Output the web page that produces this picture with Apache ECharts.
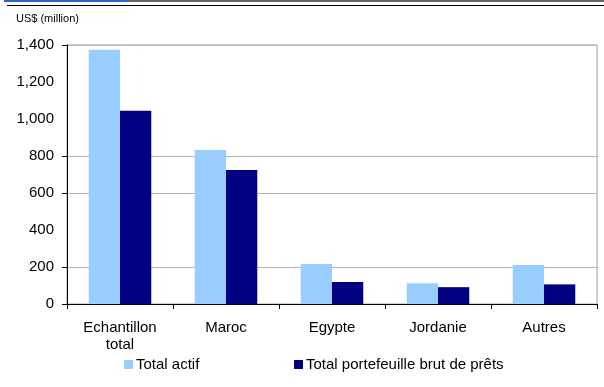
<!DOCTYPE html>
<html>
<head>
<meta charset="utf-8">
<script src="https://cdn.jsdelivr.net/npm/echarts@6/dist/echarts.min.js"></script>
<style>
  html, body { margin: 0; padding: 0; background: #fff; }
  #chart { width: 604px; height: 387px; }
</style>
</head>
<body>
<div id="chart"></div>
<script>
// Regions compared in the chart
const categories = ['Echantillon\ntotal', 'Maroc', 'Egypte', 'Jordanie', 'Autres'];
// Values in US$ million
const totalActif = [1375, 832, 216, 112, 211];
const portefeuille = [1045, 725, 119, 91, 106];
const seriesNames = ['Total actif', 'Total portefeuille brut de prêts'];
// Y axis ticks
const yTicks = [0, 200, 400, 600, 800, 1000, 1200, 1400];
const yGridValues = [0, 200, 600, 800, 1400];

const FONT = '"Liberation Sans", Arial, sans-serif';
const chart = echarts.init(document.getElementById('chart'), null, { renderer: 'canvas' });

chart.setOption({
  animation: false,
  backgroundColor: '#ffffff',
  textStyle: { fontFamily: FONT },
  graphic: [
    // header rule: blue and grey bands, then a thin dark line
    { type: 'rect', left: 4, top: 0, shape: { width: 123, height: 2 }, style: { fill: '#3366cc' } },
    { type: 'rect', left: 127, top: 0, shape: { width: 477, height: 2 }, style: { fill: '#666666' } },
    { type: 'rect', left: 7, top: 5, shape: { width: 597, height: 1 }, style: { fill: '#000000' } },
    { type: 'text', left: 16, top: 13, style: { text: 'US$ (million)', font: '11px ' + FONT, fill: '#000' } }
  ],
  grid: {
    left: 67, right: 7, top: 45, bottom: 83,
    show: true, borderColor: '#a0a0a0', borderWidth: 1
  },
  legend: [
    {
      data: [seriesNames[0]], left: 119, top: 352,
      itemWidth: 9, itemHeight: 9, itemGap: 0,
      icon: 'rect', textStyle: { fontSize: 15, fontFamily: FONT, color: '#000', padding: [0, 0, 0, -2] }
    },
    {
      data: [seriesNames[1]], left: 289, top: 352,
      itemWidth: 9, itemHeight: 9, itemGap: 0,
      icon: 'rect', textStyle: { fontSize: 15, fontFamily: FONT, color: '#000', padding: [0, 0, 0, -2] }
    }
  ],
  xAxis: {
    type: 'category',
    data: categories,
    axisLine: { lineStyle: { color: '#000', width: 1 } },
    axisTick: { show: true, length: 5, lineStyle: { color: '#000' } },
    axisLabel: { fontSize: 15, fontFamily: FONT, color: '#000', margin: 15, lineHeight: 17 }
  },
  yAxis: {
    type: 'value',
    min: yTicks[0], max: yTicks[yTicks.length - 1], interval: 200,
    axisLine: { show: true, lineStyle: { color: '#000', width: 1 } },
    axisTick: { show: true, length: 5, lineStyle: { color: '#000' }, customValues: yGridValues },
    axisLabel: {
      fontSize: 15, fontFamily: FONT, color: '#000', margin: 13,
      formatter: v => v.toLocaleString('en-US')
    },
    splitLine: { show: true, lineStyle: { color: '#b4b4b4', width: 1 } }
  },
  series: [
    {
      name: seriesNames[0], type: 'bar', data: totalActif,
      barGap: '0%', barCategoryGap: '41%',
      itemStyle: { color: '#99ccff' }
    },
    {
      name: seriesNames[1], type: 'bar', data: portefeuille,
      barGap: '0%', barCategoryGap: '41%',
      itemStyle: { color: '#000080' }
    }
  ]
});
</script>
</body>
</html>
